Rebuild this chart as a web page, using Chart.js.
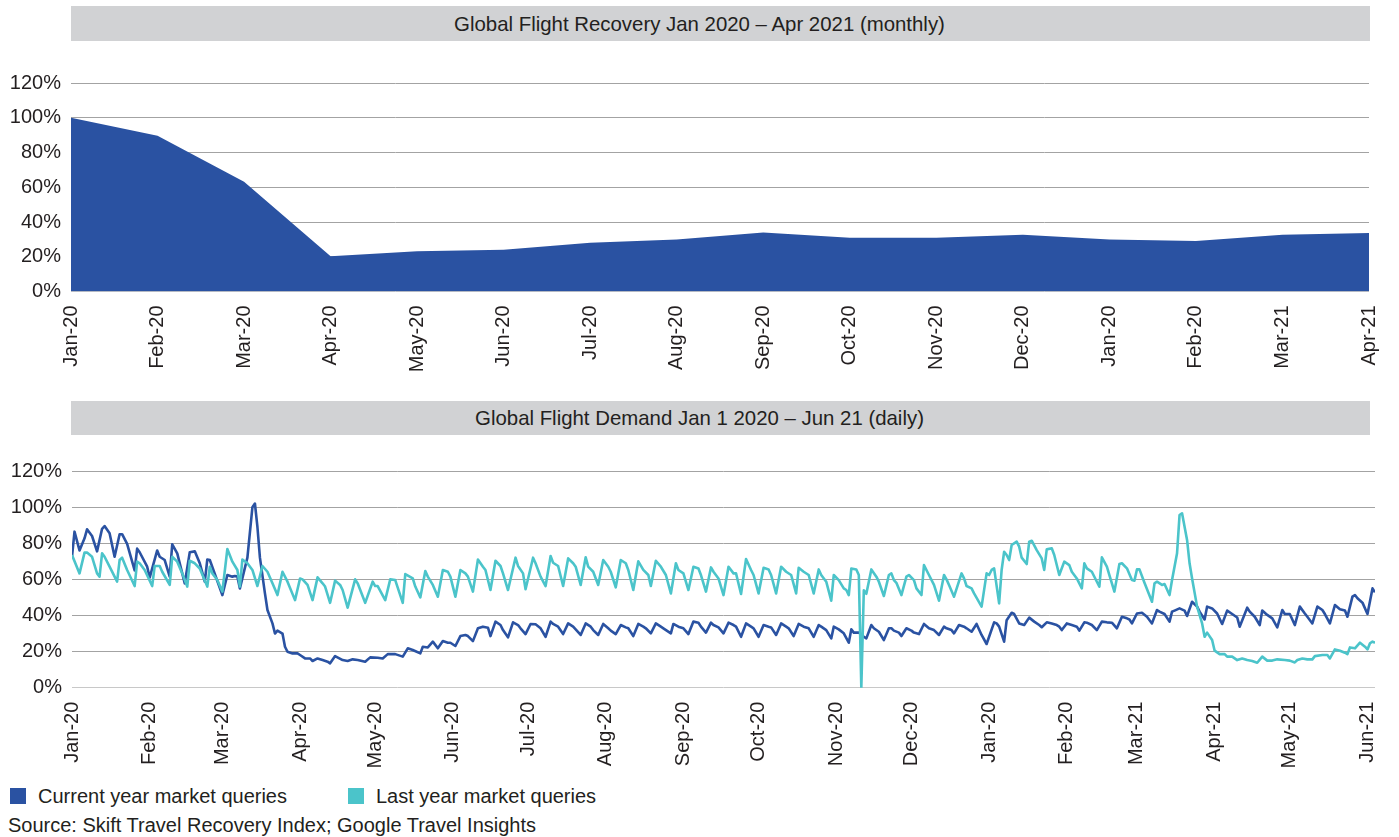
<!DOCTYPE html>
<html>
<head>
<meta charset="utf-8">
<script src="https://cdn.jsdelivr.net/npm/chart.js@4"></script>
<style>
  html, body { margin: 0; padding: 0; background: #ffffff; }
  body { width: 1399px; height: 837px; position: relative; overflow: hidden;
         font-family: "Liberation Sans", Arial, Helvetica, sans-serif; color: #231f20; }
  .band { position: absolute; left: 71px; width: 1299px; background: #d1d2d4; }
  .bandText { position: absolute; left: 0; width: 1399px; text-align: center; font-size: 20.4px; line-height: 20px; }
  canvas { position: absolute; left: 0; }
  #legend { position: absolute; left: 10px; top: 786px; font-size: 20px; line-height: 20px; }
  .item { position: absolute; top: 0; white-space: nowrap; }
  .sw { position: absolute; top: 2px; width: 16px; height: 16px; }
  .lt { position: absolute; left: 28px; top: 0; }
  #source { position: absolute; left: 8px; top: 815px; font-size: 20px; line-height: 20px; white-space: nowrap; }
</style>
</head>
<body>
<div class="band" style="top:6px;height:35px;"></div>
<div class="bandText" id="title1" style="top:14px;"></div>
<canvas id="c1" width="1399" height="345" style="top:41px;"></canvas>

<div class="band" style="top:401px;height:34px;"></div>
<div class="bandText" id="title2" style="top:408px;"></div>
<canvas id="c2" width="1399" height="345" style="top:435px;"></canvas>

<div id="legend"></div>
<div id="source"></div>

<script>
// ---------- Data ----------
const title1 = "Global Flight Recovery Jan 2020 \u2013 Apr 2021 (monthly)";
const title2 = "Global Flight Demand Jan 1 2020 \u2013 Jun 21 (daily)";
const sourceText = "Source: Skift Travel Recovery Index; Google Travel Insights";

// Monthly recovery (top chart)
const monthlyLabels = ["Jan-20","Feb-20","Mar-20","Apr-20","May-20","Jun-20","Jul-20","Aug-20",
                       "Sep-20","Oct-20","Nov-20","Dec-20","Jan-20","Feb-20","Mar-21","Apr-21"];
const monthlyRecovery = [100, 89.7, 63.2, 20.3, 23.2, 24, 28, 30, 34, 31, 31, 32.6, 30, 29, 32.6, 33.7];

// Daily demand (bottom chart): x = days since Jan 1 2020
const monthTickDays = [0,31,60,91,121,152,182,213,244,274,305,335,366,397,425,456,486,517];
const monthTickLabels = ["Jan-20","Feb-20","Mar-20","Apr-20","May-20","Jun-20","Jul-20","Aug-20","Sep-20",
                         "Oct-20","Nov-20","Dec-20","Jan-20","Feb-20","Mar-21","Apr-21","May-21","Jun-21"];

const seriesNames = ["Current year market queries", "Last year market queries"];
const seriesColors = ["#2a52a2", "#4bc4ca"];

const currentDays = [0,1,3,5,6,8,10,12,13,15,17,19,20,22,25,26,27,30,31,34,35,37,39,40,42,45,47,49,51,53,54,55,60,62,64,65,66,67,70,72,73,74,75,77,78,80,81,82,84,85,86,88,90,91,93,95,96,98,100,102,103,105,108,110,112,114,117,119,122,124,126,129,132,134,136,139,140,142,144,146,148,150,151,153,155,157,158,160,162,164,166,167,169,171,172,174,176,178,179,181,183,185,187,189,191,192,194,196,198,200,201,203,205,207,208,210,212,214,215,217,219,221,222,224,226,228,229,231,233,235,236,239,240,242,244,246,248,250,251,253,255,256,258,260,262,264,265,267,269,271,272,274,276,278,279,281,283,285,286,288,290,292,294,296,298,299,301,303,304,306,308,310,311,312,314,316,317,319,320,322,324,326,327,328,330,331,333,335,336,338,340,342,344,346,348,349,351,352,354,356,357,359,361,363,365,366,368,369,370,372,373,375,376,378,380,382,384,386,387,389,391,393,394,395,397,399,401,402,404,405,407,409,411,413,415,417,419,421,422,423,425,427,429,431,433,434,436,438,439,440,442,444,445,447,449,450,452,453,455,457,459,461,463,465,466,469,470,472,474,475,477,479,481,483,484,486,488,490,492,493,495,497,499,500,502,504,506,508,509,511,512,513,515,517,519,520];
const currentValues = [72.5,86.4,76,82.7,87.7,84,75.5,88,89.5,85.5,72.5,85,85,79.6,65,77,75,67,61,76,72.5,70.7,61.5,79.4,74.4,57.8,75,75.5,68.9,58.7,71,70.7,51.3,62.4,61.5,61.8,61.5,55,72,100,102,89,72,52.2,43,35.6,30,31.6,30,22.7,19.9,19,19,18.1,16.2,16.2,14.8,16.2,15.3,14.4,13.5,17.5,15.3,14.8,15.7,15.3,14.4,16.8,16.6,16.2,18.6,18.6,17.2,21.8,20.9,19,22.7,22.3,25.5,21.8,25.8,24.9,24.9,23.1,28.6,29.2,28.6,25.8,32.9,33.8,33.2,28.6,36.6,34.7,31.9,27.9,36.2,34.7,32.9,29.7,35.3,35.1,32.9,28.2,36.6,35.3,33.8,29.7,35.6,33.8,32.3,29.2,35.6,33.8,31.9,29.2,35.3,32.9,31.6,29.7,34.7,33.4,32.9,28.6,35.3,33.8,32.9,30.1,35.6,33.8,32.9,30.1,35.3,33.8,32.9,29.7,36.6,36,33.8,30.5,36,34.7,33.4,30.1,36,34.7,33.8,28.2,35.6,33.8,32.9,28.2,34.7,33.8,33.4,29.2,35.6,33.8,32.9,28.6,35.3,33.8,32.9,28.2,34.7,33.8,31.9,27.3,33.8,32.3,30.1,24.9,32.3,30.5,30.5,28.2,27.3,34.7,32.9,31,26.4,32.9,32.9,31.6,30.5,28.6,32.9,31.6,30.5,29.7,35.3,32.9,31.9,29.2,33.8,32.9,31.9,30.1,34.7,33.8,32.9,31,35.3,29.2,24.2,28.2,36.2,35.6,33.8,25.5,37.4,41.5,40.8,35.6,34.7,38.8,36.6,34.7,33.5,36.2,35.6,34.7,33.8,31.9,35.6,34.7,33.8,31.6,36.2,36,34.7,31.9,36.6,36.2,36,32.9,39.3,38.4,37.8,35.6,41.1,41.5,39.3,35.6,43,42.1,40.8,36.6,42.1,42.7,43.9,42.7,39.7,47.6,44.9,42.1,37.8,44.9,43.9,41.1,35.3,42.7,40.8,38.9,33.8,44.3,42.1,39.3,34.7,42.7,40.3,38.4,33.4,43,40.8,40.8,34.7,44.9,41.1,39.3,35.6,44.9,43,40.8,35.6,45.8,43.4,42.7,39.3,50.4,51.3,49.5,47.1,40.8,55,52.8];

const lastDays = [0,3,5,6,8,10,11,12,13,15,18,19,20,22,25,26,27,29,32,33,35,36,39,40,42,44,46,47,49,51,54,55,56,58,60,62,64,66,67,68,70,72,74,76,78,80,82,84,86,89,91,92,94,96,98,100,101,103,105,107,108,110,113,114,117,120,121,122,125,127,129,132,133,136,137,139,141,142,144,146,148,150,151,153,155,157,158,160,162,164,165,167,169,171,172,174,177,178,180,181,184,185,187,189,191,192,194,196,198,200,201,203,205,206,208,210,212,214,215,217,219,221,222,224,226,228,230,231,233,235,237,239,241,242,244,246,248,250,251,253,255,256,258,260,262,264,265,267,269,271,272,274,276,278,279,281,283,285,287,289,290,292,294,296,298,299,301,303,304,306,308,309,310,311,313,314,315,316,317,319,321,322,324,326,327,328,329,331,333,334,336,337,339,340,342,344,346,348,349,350,352,355,356,357,359,360,363,365,366,367,368,370,371,372,373,374,375,377,378,379,381,382,383,385,387,388,389,391,392,394,396,398,399,401,403,404,405,407,410,411,413,414,416,418,419,421,423,424,425,426,428,431,432,433,435,436,438,439,441,442,443,445,446,447,449,451,452,453,455,456,458,460,461,463,465,467,469,471,473,475,477,479,481,484,486,488,489,491,493,495,496,499,501,502,504,506,508,509,510,512,514,516,517,518,519,520];
const lastValues = [73.5,63.3,74.8,74.8,72.5,63.3,61.5,74.4,72.5,67,58.7,70.7,72,65.2,56.3,69.8,68.9,65.2,56.3,67.4,67.4,64.2,56.9,72.5,69.8,63.3,56,70.3,68.9,66,56,67,63.3,59.6,53.2,76.8,69.8,65.2,56,71,68.9,65.2,56.3,67.4,64.2,57.8,51.3,64.2,58.7,48.5,60.5,60,56.9,48.5,61.1,57.8,56,47,59.3,56.9,54.1,44.3,60,57.8,47,58.7,56.3,56.3,48.5,60,59.6,47,62.9,60.5,56,50,64.6,61.5,56.9,50.4,65.2,64.2,61.5,50.4,65.2,63.3,61.5,53.2,71,67,65.2,54.1,70.3,67.4,63.3,54.1,72,67.4,63.3,54.5,72,68.9,61.5,56.3,72.9,69.2,67.4,56.3,71.6,68.9,67,56.9,72.2,67,64.2,56.9,70.7,67,64.2,55.6,70.7,68.9,65.2,54.1,70,65.2,62.4,56.3,70.3,67,62.4,52.2,68.9,65.2,63.3,54.1,67,66,62.4,53.2,66.6,64.2,60.5,51.3,67,63.3,63.3,51.9,71.3,65.2,62.4,52.2,66.4,65.5,62.4,52.2,67,64.2,62.4,52.2,66.4,64.2,62.4,52.2,65.5,62.4,58.7,48.2,62.4,59.6,55,54.1,51.3,66,65.5,62.4,0,54,52,65.5,61.5,58.7,50.8,62.4,63.3,59.6,58.1,51.3,61.5,62.4,59.6,55,51.3,67.9,62.4,56.9,48.2,62.4,60,56.9,50.4,63.3,60.5,56.3,55,52.2,44.9,63.3,62.4,65.2,66.1,46.7,65.2,75.3,73.5,70.7,79,80.9,78.1,72,68.5,80.9,81.4,76.2,71.6,65.2,76.6,77.2,73.5,62.4,69.8,67.9,64.2,60.5,55,68.9,66.1,64.2,55.9,72.2,67,62.4,53.2,68.5,68.9,66.1,59.6,59.3,65.5,65.5,58.1,47.6,57.8,58.7,56.9,57.4,51.3,59.6,74.4,95.6,96.6,81.8,68.9,60.5,44.9,35.6,28.2,30.5,26.4,20.5,18.6,18.6,17.2,17.2,15.3,16.2,15.3,14.8,13.8,17.2,15,15,15.7,15.3,15,14,15.3,16.2,15.7,15.7,17.5,18.1,18.1,16.2,21.2,20.5,19.4,18.6,22.3,21.8,24.9,22.7,21.2,24.6,25.5,24.9];

// ---------- Shared styles ----------
const FONT = { family: "'Liberation Sans', Arial, Helvetica, sans-serif", size: 20 };
const TEXT = "#231f20";
const gridColor = (ctx) => (ctx.tick && ctx.tick.value === 0) ? "#c8c8c8" : "#a3a3a3";

document.getElementById("title1").textContent = title1;
document.getElementById("title2").textContent = title2;
document.getElementById("source").textContent = sourceText;

const legend = document.getElementById("legend");
const legendOffsets = [0, 338];
seriesNames.forEach((name, i) => {
  const it = document.createElement("div");
  it.className = "item";
  it.style.left = legendOffsets[i] + "px";
  const sw = document.createElement("div");
  sw.className = "sw";
  sw.style.background = seriesColors[i];
  const lt = document.createElement("div");
  lt.className = "lt";
  lt.textContent = name;
  it.appendChild(sw); it.appendChild(lt);
  legend.appendChild(it);
});

const yAxis = (w) => ({
  min: 0, max: 120,
  ticks: { stepSize: 20, padding: 10, color: TEXT, font: FONT, callback: v => v + "%" },
  grid: { color: gridColor, lineWidth: 1, drawTicks: false },
  border: { display: false },
  afterFit: s => { s.width = w; }
});

const fitX = (h) => (s) => { s.height = h; s.paddingLeft = 0; s.paddingRight = 0; };

// ---------- Top chart ----------
new Chart(document.getElementById("c1"), {
  type: "line",
  data: {
    labels: monthlyLabels,
    datasets: [{
      label: "Recovery",
      data: monthlyRecovery,
      fill: "origin",
      backgroundColor: "#2a52a2",
      borderColor: "#2a52a2",
      borderWidth: 0,
      pointRadius: 0,
      tension: 0
    }]
  },
  options: {
    responsive: false,
    animation: false,
    devicePixelRatio: 1,
    layout: { padding: { top: 42, right: 30, left: 0, bottom: 0 } },
    plugins: { legend: { display: false }, tooltip: { enabled: false } },
    scales: {
      x: {
        offset: false,
        grid: { display: false, drawTicks: false },
        border: { display: false },
        ticks: { autoSkip: false, minRotation: 90, maxRotation: 90, padding: 14, color: TEXT, font: FONT },
        afterFit: fitX(94.5)
      },
      y: yAxis(71)
    }
  }
});

// ---------- Bottom chart ----------
const toPoints = (days, vals) => days.map((d, i) => ({ x: d, y: vals[i] }));

new Chart(document.getElementById("c2"), {
  type: "line",
  data: {
    datasets: [
      {
        label: seriesNames[1],
        data: toPoints(lastDays, lastValues),
        borderColor: seriesColors[1],
        backgroundColor: seriesColors[1],
        borderWidth: 2.6,
        pointRadius: 0,
        tension: 0,
        fill: false,
        borderJoinStyle: "round",
        order: 0
      },
      {
        label: seriesNames[0],
        data: toPoints(currentDays, currentValues),
        borderColor: seriesColors[0],
        backgroundColor: seriesColors[0],
        borderWidth: 2.6,
        pointRadius: 0,
        tension: 0,
        fill: false,
        borderJoinStyle: "round",
        order: 1
      }
    ]
  },
  options: {
    responsive: false,
    animation: false,
    devicePixelRatio: 1,
    layout: { padding: { top: 36, right: 24, left: 0, bottom: 0 } },
    plugins: { legend: { display: false }, tooltip: { enabled: false } },
    scales: {
      x: {
        type: "linear",
        min: 0, max: 520,
        grid: { display: false, drawTicks: false },
        border: { display: false },
        afterBuildTicks: s => { s.ticks = monthTickDays.map(d => ({ value: d })); },
        ticks: { autoSkip: false, minRotation: 90, maxRotation: 90, padding: 14, color: TEXT, font: FONT,
                 callback: (v, i) => monthTickLabels[i] },
        afterFit: fitX(92.3)
      },
      y: yAxis(72)
    }
  }
});
</script>
</body>
</html>
